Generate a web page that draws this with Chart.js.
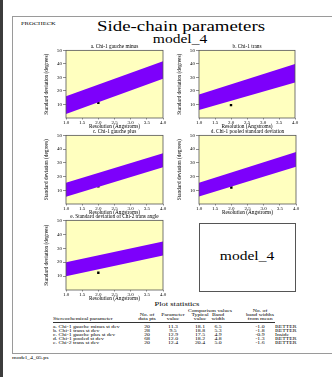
<!DOCTYPE html>
<html>
<head>
<meta charset="utf-8">
<script src="https://cdn.jsdelivr.net/npm/chart.js@4/dist/chart.umd.min.js"></script>
<style>
  body { margin: 0; width: 332px; height: 377px; position: relative; overflow: hidden; background: #fff; font-family: "Liberation Serif", serif; color: #000; }
  .t { position: absolute; white-space: nowrap; line-height: 1; }
  canvas { position: absolute; }
</style>
</head>
<body>
<div style="position:absolute;left:0;top:0;width:3px;height:377px;background:#3c3c3c"></div>
<div style="position:absolute;left:12px;top:16px;width:330px;height:338px;border:1px solid #9a9a9a;box-sizing:border-box"></div>
<div style="position:absolute;left:199px;top:223px;width:97px;height:69px;border:1px solid #555;box-sizing:border-box;background:#fff"></div>
<div style="position:absolute;left:53px;top:322px;width:222px;height:0;border-top:0.6px solid #333"></div>
<script>
// Dados dos graficos
const chartTitles = ['a. Chi-1 gauche minus', 'b. Chi-1 trans', 'c. Chi-1 gauche plus',
  'd. Chi-1 pooled standard deviation', 'e. Standard deviation of Chi-2 trans angle'];
const resolutionEnds = [1.0, 4.0];
const bandLower = [[3.0, 29.0], [6.0, 26.3], [5.3, 26.8], [5.5, 27.2], [9.8, 24.8]];
const bandMean = [[9.5, 35.5], [11.7, 33.1], [10.4, 31.8], [10.5, 32.5], [15.0, 29.8]];
const bandUpper = [[16.0, 42.0], [17.4, 39.9], [15.5, 36.9], [15.5, 37.8], [20.0, 34.8]];
const modelResolution = 2.0;
const parameterValue = [11.3, 9.5, 12.9, 12.0, 12.4];
const xTicks = [1.0, 1.5, 2.0, 2.5, 3.0, 3.5, 4.0];
const yTicks = [10, 20, 30, 40, 50];

// Tabela
const paramNames = ['a. Chi-1 gauche minus st dev', 'b. Chi-1 trans st dev', 'c. Chi-1 gauche plus st dev',
  'd. Chi-1 pooled st dev', 'e. Chi-2 trans st dev'];
const dataPoints = [20, 28, 20, 68, 20];
const typicalValue = [18.1, 18.8, 17.5, 18.2, 20.4];
const bandWidth = [6.5, 5.3, 4.9, 4.8, 5.0];
const bandWidthsFromMean = [-1.0, -1.8, -0.9, -1.3, -1.6];
const verdict = ['BETTER', 'BETTER', 'Inside', 'BETTER', 'BETTER'];

// posicoes das areas de plotagem [esq, topo, dir, base]
const plotBoxes = [[66, 50, 163, 118], [199, 50, 295, 118], [66, 135, 163, 204],
  [199, 135, 296, 204], [66, 220, 163, 290]];

const SERIF = '"Liberation Serif", serif';

function put(text, x, y, size, align, sx) {
  const d = document.createElement('div');
  d.className = 't';
  d.textContent = text;
  d.style.fontSize = size + 'px';
  d.style.left = x + 'px';
  d.style.top = y + 'px';
  sx = sx || 1.3;
  if (align === 'left') {
    d.style.transformOrigin = '0 50%';
    d.style.transform = 'translate(0,-50%) scaleX(' + sx + ')';
  } else {
    d.style.transform = 'translate(-50%,-50%) scaleX(' + sx + ')';
  }
  document.body.appendChild(d);
}

put('PROCHECK', 21, 22.7, 5, 'left');
put('Side-chain parameters', 181, 26, 14.5, 'center', 1.3);
put('model_4', 180, 39.5, 11.5, 'center', 1.35);
put('model_4', 247, 257, 11.5, 'center', 1.35);
put('Plot statistics', 177, 304, 6.5, 'center');
put('model_4_05.ps', 12, 357.5, 4.6, 'left');

// cabecalho da tabela
const colX = [147, 173, 200, 218, 260];
put('Comparison values', 210, 311, 4.6, 'center', 1.25);
put('No. of', 260, 311, 4.6, 'center', 1.25);
['No. of', 'Parameter', 'Typical', 'Band', 'band widths'].forEach((s, j) => put(s, colX[j], 315, 4.6, 'center', 1.25));
['data pts', 'value', 'value', 'width', 'from mean'].forEach((s, j) => put(s, colX[j], 319, 4.6, 'center', 1.25));
put('Stereochemical parameter', 53, 319, 4.6, 'left', 1.25);

paramNames.forEach((name, i) => {
  const y = 327.3 + i * 4;
  put(name, 53, y, 4.6, 'left', 1.25);
  put(String(dataPoints[i]), colX[0], y, 4.6, 'center', 1.25);
  put(parameterValue[i].toFixed(1), colX[1], y, 4.6, 'center', 1.25);
  put(typicalValue[i].toFixed(1), colX[2], y, 4.6, 'center', 1.25);
  put(bandWidth[i].toFixed(1), colX[3], y, 4.6, 'center', 1.25);
  put(bandWidthsFromMean[i].toFixed(1), colX[4], y, 4.6, 'center', 1.25);
  put(verdict[i], 275, y, 4.6, 'left', 1.25);
});

// fundo amarelo e moldura
const plotFrame = {
  id: 'plotFrame',
  beforeDraw(chart) {
    const a = chart.chartArea, c = chart.ctx;
    c.save();
    c.fillStyle = '#ffffbf';
    c.fillRect(a.left, a.top, a.right - a.left, a.bottom - a.top);
    c.restore();
  },
  afterDatasetsDraw(chart) {
    const a = chart.chartArea, c = chart.ctx;
    c.save();
    c.strokeStyle = '#555';
    c.lineWidth = 0.8;
    c.strokeRect(a.left, a.top, a.right - a.left, a.bottom - a.top);
    c.restore();
  }
};

const pts = pairs => pairs.map((v, k) => ({ x: resolutionEnds[k], y: v }));
const tickFont = { family: SERIF, size: 5, weight: 'normal' };
const titleFont = { family: SERIF, size: 5.3, weight: 'normal' };

plotBoxes.forEach((b, i) => {
  const yAxisW = 23, titleH = 9, xAxisH = 12, padR = 6;
  const left = b[0] - yAxisW, top = b[1] - titleH;
  const cv = document.createElement('canvas');
  cv.width = b[2] - left + padR;
  cv.height = b[3] - top + xAxisH;
  cv.style.left = left + 'px';
  cv.style.top = top + 'px';
  document.body.appendChild(cv);

  new Chart(cv.getContext('2d'), {
    type: 'line',
    data: {
      datasets: [
        { data: pts(bandUpper[i]), borderWidth: 0, pointRadius: 0, fill: false },
        { data: pts(bandLower[i]), borderWidth: 0, pointRadius: 0, fill: '-1', backgroundColor: '#7d00fb' },
        { data: pts(bandMean[i]), borderColor: '#2c0066', borderWidth: 0.6, pointRadius: 0, fill: false },
        { type: 'scatter', data: [{ x: modelResolution, y: parameterValue[i] }], pointStyle: 'rect',
          pointRadius: 1.7, backgroundColor: '#000', borderColor: '#000', borderWidth: 0 }
      ]
    },
    options: {
      responsive: false,
      animation: false,
      layout: { padding: { top: 0, left: 0, right: padR, bottom: 0 } },
      plugins: {
        legend: { display: false },
        tooltip: { enabled: false },
        title: { display: true, text: chartTitles[i], font: titleFont, color: '#000',
          padding: { top: 2, bottom: 1 }, fullSize: false }
      },
      scales: {
        x: {
          type: 'linear', min: 1, max: 4,
          afterBuildTicks: s => { s.ticks = xTicks.map(v => ({ value: v })); },
          afterFit: s => { s.height = xAxisH; },
          ticks: { font: tickFont, color: '#000', padding: 0, maxRotation: 0, autoSkip: false,
            callback: v => Number(v).toFixed(1) },
          grid: { drawOnChartArea: false, tickLength: 1.5, color: '#444', lineWidth: 0.6 },
          border: { display: false },
          title: { display: true, text: 'Resolution (Angstroms)', font: titleFont, color: '#000', padding: 0 }
        },
        y: {
          min: 0, max: 50,
          afterBuildTicks: s => { s.ticks = yTicks.map(v => ({ value: v })); },
          afterFit: s => { s.width = yAxisW; },
          ticks: { font: tickFont, color: '#000', padding: 1 },
          grid: { drawOnChartArea: false, tickLength: 3, color: '#444', lineWidth: 0.6 },
          border: { display: false },
          title: { display: true, text: 'Standard deviation (degrees)', font: titleFont, color: '#000', padding: 0 }
        }
      }
    },
    plugins: [plotFrame]
  });
});
</script>
</body>
</html>
